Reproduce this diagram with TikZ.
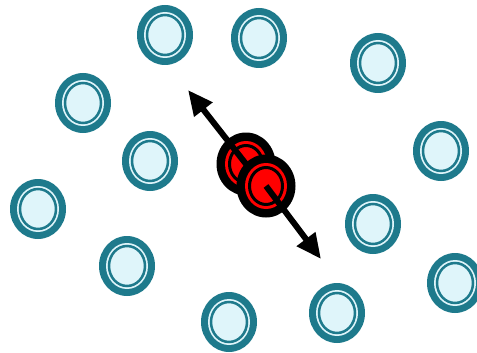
\documentclass[tikz,border=0pt]{standalone}
\usetikzlibrary{arrows.meta}
\definecolor{tealring}{HTML}{1E7A8C}
\definecolor{tealfill}{HTML}{DFF5FA}
\definecolor{hotred}{HTML}{FF0000}
% one particle: ring, gap, thin ring, core
\newcommand{\ionat}[4]{%
  \coordinate (#2) at (#1);
  \fill[#3] (#2) ellipse (28pt and 30pt);
  \fill[#4] (#2) ellipse (21pt and 23pt);
  \draw[#3, line width=2.5pt, fill=#4] (#2) ellipse (18pt and 20pt);
}
% the moving ones: wider ring
\newcommand{\hotionat}[2]{%
  \coordinate (#2) at (#1);
  \fill[black] (#2) ellipse (29.5pt and 31.5pt);
  \fill[hotred] (#2) ellipse (21pt and 23pt);
  \draw[black, line width=3pt, fill=hotred] (#2) ellipse (16.5pt and 18.5pt);
}
\begin{document}
\begin{tikzpicture}[x=1pt, y=-1pt, >={Triangle[length=25pt, width=22pt]}]
\useasboundingbox (0,0) rectangle (477,353);
% surrounding particles
\ionat{165,35}{p1}{tealring}{tealfill}
\ionat{259,38}{p2}{tealring}{tealfill}
\ionat{378,63}{p3}{tealring}{tealfill}
\ionat{83,103}{p4}{tealring}{tealfill}
\ionat{150,161}{p5}{tealring}{tealfill}
\ionat{441,151}{p6}{tealring}{tealfill}
\ionat{38,209}{p7}{tealring}{tealfill}
\ionat{373,224}{p8}{tealring}{tealfill}
\ionat{127,266}{p9}{tealring}{tealfill}
\ionat{455,283}{p10}{tealring}{tealfill}
\ionat{229,322}{p11}{tealring}{tealfill}
\ionat{337,313}{p12}{tealring}{tealfill}
% moving pair
\coordinate (tipa) at (188,90);
\coordinate (tipb) at (321,259);
\hotionat{246,164}{ra}
\draw[->, line width=6pt] (ra) -- (tipa);
\hotionat{266,186}{rb}
\draw[->, line width=6pt] (rb) -- (tipb);
\end{tikzpicture}
\end{document}
